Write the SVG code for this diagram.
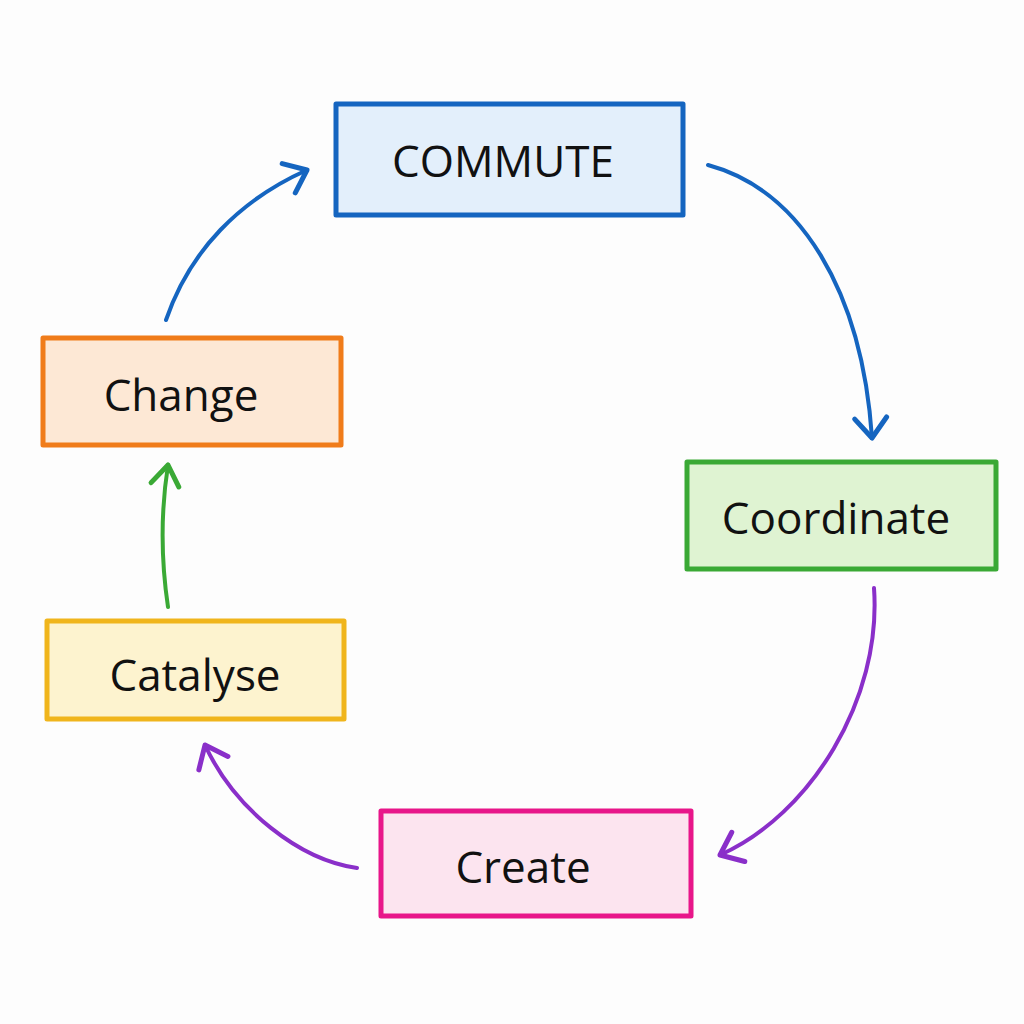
<svg xmlns="http://www.w3.org/2000/svg" width="1024" height="1024" viewBox="0 0 1024 1024">
<style>
.box{stroke-width:5;stroke-linejoin:round}
.lbl{font-family:"Open Sans","Noto Sans",sans-serif;font-size:44px;fill:#111;text-anchor:middle;dominant-baseline:central}
.conn{fill:none;stroke-width:4;stroke-linecap:round}
</style>
<defs>
<marker id="ab" markerUnits="userSpaceOnUse" markerWidth="40" markerHeight="40" refX="0" refY="0" viewBox="-25 -20 30 40" orient="auto" overflow="visible">
<path d="M-20,-16 L0,0 L-20,16" fill="none" stroke="#1565c0" stroke-width="5" stroke-linecap="round" stroke-linejoin="round"/>
</marker>
<marker id="ag" markerUnits="userSpaceOnUse" markerWidth="40" markerHeight="40" refX="0" refY="0" viewBox="-25 -20 30 40" orient="auto" overflow="visible">
<path d="M-20,-14 L0,0 L-20,14" fill="none" stroke="#3aa935" stroke-width="5" stroke-linecap="round" stroke-linejoin="round"/>
</marker>
<marker id="ap" markerUnits="userSpaceOnUse" markerWidth="40" markerHeight="40" refX="0" refY="0" viewBox="-25 -20 30 40" orient="auto" overflow="visible">
<path d="M-20,-16 L0,0 L-20,16" fill="none" stroke="#8a2fc9" stroke-width="5" stroke-linecap="round" stroke-linejoin="round"/>
</marker>
</defs>
<rect width="1024" height="1024" fill="#fdfdfd"/>
<g id="connectors">
<path class="conn" stroke="#1565c0" d="M708,165 C800,190 862,290 872,438" marker-end="url(#ab)"/>
<path class="conn" stroke="#8a2fc9" d="M874,588 C882,700 810,815 720,855" marker-end="url(#ap)"/>
<path class="conn" stroke="#8a2fc9" d="M357,868 C300,860 235,810 205,745" marker-end="url(#ap)"/>
<path class="conn" stroke="#3aa935" d="M168,607 C161,560 161,510 168,465" marker-end="url(#ag)"/>
<path class="conn" stroke="#1565c0" d="M166,320 C190,250 240,200 307,170" marker-end="url(#ab)"/>
</g>
<g id="node-commute">
<rect class="box" x="336" y="104" width="347" height="111" fill="#e3effb" stroke="#1565c0"/>
<text class="lbl" x="503" y="160">COMMUTE</text>
</g>
<g id="node-coordinate">
<rect class="box" x="687" y="462" width="309" height="107" fill="#dff3d2" stroke="#3aa935"/>
<text class="lbl" x="836" y="517">Coordinate</text>
</g>
<g id="node-create">
<rect class="box" x="381" y="811" width="310" height="105" fill="#fce4ef" stroke="#e8168a"/>
<text class="lbl" x="523" y="866">Create</text>
</g>
<g id="node-catalyse">
<rect class="box" x="47" y="621" width="297" height="98" fill="#fdf3cf" stroke="#f0b51c"/>
<text class="lbl" x="195" y="674">Catalyse</text>
</g>
<g id="node-change">
<rect class="box" x="43" y="338" width="298" height="107" fill="#fde8d5" stroke="#f07c1a"/>
<text class="lbl" x="181" y="394">Change</text>
</g>
</svg>
